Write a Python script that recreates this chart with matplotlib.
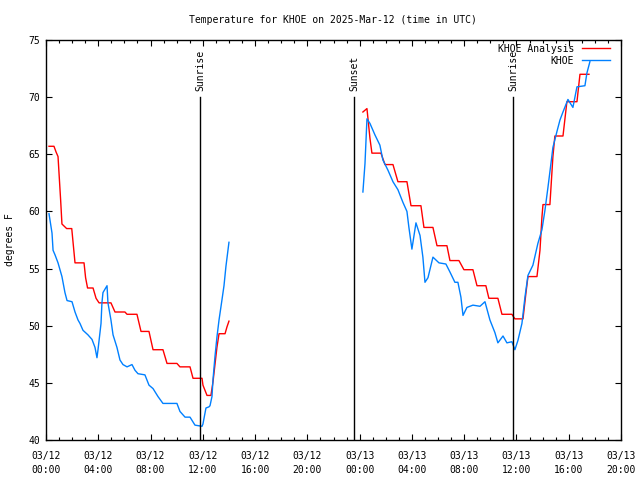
import matplotlib
matplotlib.use("Agg")
import matplotlib.pyplot as plt
from matplotlib.ticker import MultipleLocator

# hours since 2025-03-12 00:00 UTC
ana1_t = [0.23, 0.61, 0.77, 0.92, 1.12, 1.22, 1.58, 1.97, 2.07, 2.22, 2.91, 3.03, 3.18, 3.33,
          3.60, 3.83, 4.06, 4.97, 5.28, 6.04, 6.20, 6.96, 7.27, 7.88, 8.19, 8.95, 9.26, 10.02,
          10.25, 11.02, 11.25, 11.94, 12.01, 12.32, 12.62, 12.70, 12.78, 13.08, 13.24, 13.70,
          13.85, 14.00]
ana1_v = [65.7, 65.7, 65.2, 64.8, 61.0, 58.9, 58.5, 58.5, 57.3, 55.5, 55.5, 54.2, 53.3, 53.3,
          53.3, 52.4, 52.0, 52.0, 51.2, 51.2, 51.0, 51.0, 49.5, 49.5, 47.9, 47.9, 46.7, 46.7,
          46.4, 46.4, 45.4, 45.4, 44.8, 43.9, 43.9, 44.5, 45.1, 48.1, 49.3, 49.3,
          49.9, 50.4]

obs1_t = [0.23, 0.46, 0.54, 0.69, 0.92, 1.22, 1.45, 1.61, 1.99, 2.22, 2.45, 2.60, 2.83, 3.21,
          3.52, 3.75, 3.90, 3.98, 4.21, 4.28, 4.36, 4.67, 4.74, 4.97, 5.13, 5.43, 5.66, 5.89,
          6.20, 6.58, 6.81, 7.04, 7.57, 7.88, 8.19, 8.57, 8.95, 10.02, 10.25, 10.64, 11.02,
          11.40, 11.94, 12.01, 12.24, 12.47, 12.55, 12.70, 12.78, 12.93, 13.08, 13.24, 13.47,
          13.62, 13.77, 14.00]
obs1_v = [59.8, 58.1, 56.6, 56.2, 55.5, 54.3, 52.9, 52.2, 52.1, 51.2, 50.5, 50.2, 49.6, 49.2,
          48.8, 48.1, 47.2, 47.9, 50.2, 52.0, 52.9, 53.5, 52.0, 50.5, 49.2, 48.1, 47.0, 46.6,
          46.4, 46.6, 46.1, 45.8, 45.7, 44.8, 44.5, 43.8, 43.2, 43.2, 42.5, 42.0, 42.0,
          41.3, 41.2, 41.4, 42.8, 42.9, 43.0, 43.8, 45.3, 47.3, 49.0, 50.5, 52.3,
          53.5, 55.2, 57.3]

ana2_t = [24.25, 24.56, 24.79, 24.94, 25.63, 25.94, 26.55, 26.93, 27.62, 27.93, 28.69, 28.92,
          29.61, 29.92, 30.68, 30.91, 31.60, 31.98, 32.67, 32.98, 33.66, 33.89, 34.58, 34.89,
          35.65, 35.88, 36.50, 36.73, 36.88, 37.57, 37.80, 37.95, 38.03, 38.56, 38.79, 38.94,
          39.56, 39.86, 40.63, 40.86, 41.55]
ana2_v = [68.7, 69.0, 66.4, 65.1, 65.1, 64.1, 64.1, 62.6, 62.6, 60.5, 60.5, 58.6,
          58.6, 57.0, 57.0, 55.7, 55.7, 54.9, 54.9, 53.5, 53.5, 52.4, 52.4, 51.0,
          51.0, 50.6, 50.6, 52.9, 54.3, 54.3, 56.6, 59.5, 60.6, 60.6, 64.8, 66.6,
          66.6, 69.6, 69.6, 72.0, 72.0]

obs2_t = [24.25, 24.41, 24.56, 24.79, 25.17, 25.55, 25.78, 26.17, 26.55, 26.93, 27.31, 27.62,
          27.77, 28.00, 28.31, 28.62, 28.84, 29.00, 29.23, 29.61, 30.07, 30.60, 30.91, 31.29,
          31.52, 31.75, 31.91, 32.21, 32.67, 33.21, 33.59, 33.97, 34.35, 34.58, 34.97, 35.27,
          35.65, 35.88, 36.11, 36.42, 36.65, 36.88, 37.26, 37.64, 37.95, 38.18, 38.41, 38.64,
          38.79, 39.10, 39.33, 39.56, 39.94, 40.32, 40.63, 41.24, 41.39, 41.62]
obs2_v = [61.7, 64.2, 68.1, 67.7, 66.7, 65.8, 64.5, 63.6, 62.6, 61.9, 60.8, 60.0,
          58.6, 56.7, 59.0, 57.9, 56.0, 53.8, 54.2, 56.0, 55.5, 55.4, 54.7, 53.8,
          53.8, 52.5, 50.9, 51.6, 51.8, 51.7, 52.1, 50.5, 49.4, 48.5, 49.1, 48.5,
          48.6, 47.9, 48.7, 50.2, 52.5, 54.4, 55.3, 57.2, 58.4, 60.1, 62.1, 64.2,
          65.6, 67.0, 68.0, 68.7, 69.8, 69.1, 70.9, 71.0, 72.1, 73.1]

sun_t = [11.78, 23.56, 35.73]
sun_lbl = ["Sunrise", "Sunset", "Sunrise"]

tick_h = list(range(0, 45, 4))
tick_lbl = ["03/12\n00:00", "03/12\n04:00", "03/12\n08:00", "03/12\n12:00", "03/12\n16:00",
            "03/12\n20:00", "03/13\n00:00", "03/13\n04:00", "03/13\n08:00", "03/13\n12:00",
            "03/13\n16:00", "03/13\n20:00"]

plt.rcParams['font.family'] = ['DejaVu Sans Mono']
plt.rcParams['font.size'] = 7

fig = plt.figure(figsize=(6.4, 4.8), dpi=100)
ax = fig.add_axes([46/640, 40/480, 575/640, 400/480])

red = '#ff0000'
blue = '#0080ff'
ax.plot(ana1_t, ana1_v, color=red, lw=1, label='KHOE Analysis')
ax.plot(ana2_t, ana2_v, color=red, lw=1)
ax.plot(obs1_t, obs1_v, color=blue, lw=1, label='KHOE')
ax.plot(obs2_t, obs2_v, color=blue, lw=1)

for t, s in zip(sun_t, sun_lbl):
    ax.plot([t, t], [40, 70], color='black', lw=1)
    ax.text(t, 70.5, s, rotation=90, ha='center', va='bottom')

ax.set_xlim(0, 44)
ax.set_ylim(40, 75)
ax.set_xticks(tick_h)
ax.set_xticklabels(tick_lbl, linespacing=1.5)
ax.xaxis.set_minor_locator(MultipleLocator(1))
ax.yaxis.set_major_locator(MultipleLocator(5))
ax.tick_params(which='both', direction='in', top=True, right=True)
ax.tick_params(which='major', length=4, width=0.8)
ax.tick_params(which='minor', length=2, width=0.8)
ax.tick_params(axis='x', pad=8)
ax.tick_params(axis='y', pad=4)
for sp in ax.spines.values():
    sp.set_linewidth(1)

leg = ax.legend(loc='upper right', bbox_to_anchor=(568/575, 1.0), frameon=False,
                markerfirst=False, handlelength=2.9, borderaxespad=0,
                labelspacing=0.2, handletextpad=0.8)

fig.text(333/640, 1 - 20/480, 'Temperature for KHOE on 2025-Mar-12 (time in UTC)',
         ha='center', va='center')
fig.text(10/640, 0.5, 'degrees F', rotation=90, ha='center', va='center')

fig.savefig('out.png', dpi=100)
